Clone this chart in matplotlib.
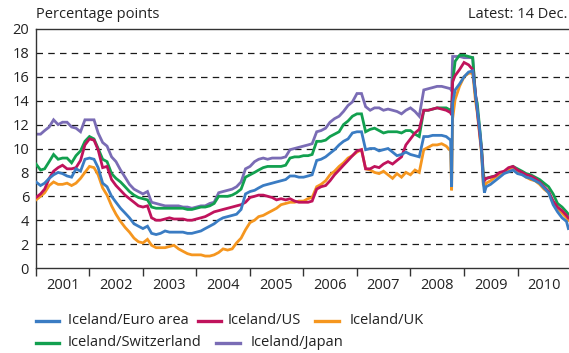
import numpy as np
import pandas as pd
import matplotlib
matplotlib.use("Agg")
import matplotlib.pyplot as plt
from matplotlib.lines import Line2D

plt.rcParams["font.family"] = ["Open Sans", "DejaVu Sans"]

# Monthly observations (first of each month, Jan 2001 - Dec 2010), percentage points
months = pd.date_range("2001-01-01", "2010-12-01", freq="MS")

euro_area = [
    7.2, 6.9, 7.1, 7.5, 7.8, 8.0, 7.9, 7.7, 7.6, 8.3, 8.1, 9.1,
    9.2, 9.1, 8.4, 7.1, 6.8, 6.0, 5.5, 5.0, 4.6, 4.2, 3.7, 3.5,
    3.3, 3.5, 2.9, 2.8, 2.9, 3.1, 3.0, 3.0, 3.0, 3.0, 2.9, 2.9,
    3.0, 3.1, 3.3, 3.5, 3.7, 4.0, 4.2, 4.3, 4.4, 4.5, 4.9, 6.2,
    6.4, 6.5, 6.7, 6.9, 7.0, 7.1, 7.2, 7.3, 7.4, 7.7, 7.7, 7.6,
    7.6, 7.7, 7.8, 9.0, 9.1, 9.3, 9.6, 9.9, 10.3, 10.6, 10.8, 11.3,
    11.4, 11.4, 9.9, 10.0, 10.0, 9.8, 9.9, 10.0, 9.7, 9.4, 9.5, 9.7,
    9.5, 9.4, 9.3, 11.0, 11.0, 11.1, 11.1, 11.1, 11.0, 10.7, 14.9, 15.4,
    16.0, 16.4, 16.5, 13.3, 9.6, 6.8, 7.0, 7.3, 7.6, 7.9, 8.05, 8.2,
    7.9, 7.8, 7.6, 7.5, 7.3, 7.1, 6.7, 6.3, 5.3, 4.7, 4.2, 3.9,
]
us = [
    5.9, 6.2, 6.6, 7.5, 8.1, 8.4, 8.6, 8.3, 8.3, 8.4, 9.0, 10.3,
    10.8, 10.7, 9.9, 8.4, 8.5, 7.4, 6.9, 6.5, 6.1, 5.8, 5.5, 5.2,
    5.1, 5.2, 4.2, 4.0, 4.0, 4.1, 4.2, 4.1, 4.1, 4.1, 4.0, 4.0,
    4.1, 4.2, 4.3, 4.5, 4.7, 4.8, 4.9, 5.0, 5.1, 5.2, 5.3, 5.5,
    5.9, 6.0, 6.1, 6.1, 6.0, 5.9, 5.7, 5.8, 5.7, 5.8, 5.6, 5.5,
    5.5, 5.5, 5.6, 6.6, 6.8, 6.9, 7.3, 7.8, 8.2, 8.6, 9.0, 9.4,
    9.8, 9.9, 8.3, 8.3, 8.5, 8.4, 8.7, 8.9, 8.7, 9.0, 9.3, 10.3,
    10.8, 11.3, 11.6, 13.2, 13.2, 13.3, 13.4, 13.3, 13.2, 13.0, 16.1, 16.6,
    17.2, 17.0, 16.6, 13.2, 9.8, 7.5, 7.6, 7.7, 8.0, 8.1, 8.4, 8.5,
    8.2, 8.0, 7.8, 7.7, 7.5, 7.2, 6.8, 6.4, 5.6, 5.1, 4.8, 4.4,
]
uk = [
    5.7, 6.0, 6.3, 6.9, 7.2, 7.0, 7.0, 7.1, 6.9, 7.1, 7.5, 8.0,
    8.5, 8.4, 7.8, 6.7, 6.1, 5.2, 4.5, 3.9, 3.4, 3.0, 2.5, 2.2,
    2.1, 2.4, 1.9, 1.7, 1.7, 1.7, 1.8, 1.9, 1.6, 1.4, 1.2, 1.1,
    1.1, 1.1, 1.0, 1.0, 1.1, 1.3, 1.6, 1.5, 1.6, 2.1, 2.5, 3.2,
    3.8, 4.0, 4.3, 4.4, 4.6, 4.8, 5.0, 5.3, 5.4, 5.5, 5.5, 5.6,
    5.6, 5.8, 5.9, 6.8, 7.0, 7.3, 7.8, 8.1, 8.5, 8.8, 9.2, 9.4,
    9.7, 9.9, 8.3, 8.2, 8.0, 7.9, 8.1, 7.8, 7.5, 7.9, 7.6, 8.0,
    7.8, 8.2, 8.0, 9.9, 10.1, 10.3, 10.3, 10.4, 10.2, 9.8, 14.1, 15.2,
    16.0, 16.3, 16.3, 13.0, 9.5, 7.1, 7.3, 7.6, 7.8, 8.0, 8.3, 8.4,
    8.1, 7.9, 7.6, 7.4, 7.3, 7.0, 6.6, 6.3, 5.5, 5.0, 4.6, 4.2,
]
switzerland = [
    8.7, 8.2, 8.3, 8.9, 9.5, 9.1, 9.2, 9.2, 8.8, 9.4, 9.8, 10.6,
    11.0, 10.8, 10.0, 9.1, 8.9, 7.9, 7.5, 7.2, 6.8, 6.4, 6.1, 5.9,
    5.8, 5.7, 5.1, 5.0, 5.0, 5.0, 5.0, 5.0, 5.0, 5.0, 4.9, 4.9,
    5.0, 5.1, 5.1, 5.2, 5.4, 6.0, 6.0, 6.0, 6.1, 6.3, 6.6, 7.6,
    7.8, 8.0, 8.2, 8.4, 8.5, 8.5, 8.5, 8.5, 8.6, 9.2, 9.3, 9.3,
    9.4, 9.4, 9.5, 10.6, 10.6, 10.7, 11.0, 11.2, 11.4, 12.0, 12.3, 12.7,
    12.9, 12.9, 11.4, 11.6, 11.7, 11.5, 11.3, 11.4, 11.4, 11.4, 11.3, 11.5,
    11.5, 11.2, 11.0, 13.2, 13.2, 13.3, 13.4, 13.4, 13.4, 13.2, 17.3, 17.8,
    17.8, 17.7, 17.6, 13.8, 10.0, 7.5, 7.6, 7.7, 7.9, 8.0, 8.3, 8.5,
    8.3, 8.1, 7.9, 7.8, 7.6, 7.4, 7.1, 6.8, 6.2, 5.4, 5.1, 4.7,
]
japan = [
    11.2, 11.2, 11.5, 11.8, 12.4, 12.0, 12.2, 12.2, 11.8, 11.7, 11.4, 12.4,
    12.4, 12.4, 11.3, 10.5, 10.2, 9.3, 8.9, 8.2, 7.6, 7.0, 6.6, 6.4,
    6.2, 6.4, 5.5, 5.4, 5.3, 5.2, 5.2, 5.2, 5.2, 5.1, 5.1, 5.0,
    5.1, 5.2, 5.2, 5.4, 5.5, 6.3, 6.4, 6.5, 6.6, 6.8, 7.2, 8.3,
    8.5, 8.9, 9.1, 9.2, 9.1, 9.2, 9.2, 9.2, 9.3, 9.9, 10.0, 10.1,
    10.2, 10.3, 10.4, 11.4, 11.5, 11.7, 12.2, 12.5, 12.7, 13.1, 13.6, 13.9,
    14.6, 14.6, 13.5, 13.2, 13.4, 13.4, 13.2, 13.3, 13.2, 13.1, 12.9, 13.2,
    13.4, 13.1, 12.7, 14.9, 15.0, 15.1, 15.2, 15.2, 15.1, 15.0, 17.7, 17.7,
    17.6, 17.6, 17.6,
]

# Additional daily observations around the October 2008 collapse, the spring 2009 fall and the latest value
extra_dates = pd.to_datetime([
    "2008-10-08", "2008-10-15", "2009-03-20", "2009-04-20",
    "2009-05-12", "2009-05-20", "2010-12-14",
])
euro_area_extra = [6.8, 13.8, 14.5, 11.3, 7.2, 6.3, 3.3]
us_extra = [12.8, 15.6, 14.6, 11.0, 7.6, 7.3, 4.2]
uk_extra = [6.5, 12.5, 14.0, 10.8, 7.0, 6.8, 4.0]
switzerland_extra = [13.0, 15.5, 14.4, 11.4, 8.0, 7.4, 4.5]
japan_extra = [14.8, 17.7, 14.4, np.nan, np.nan, np.nan, np.nan]

labels = ["Iceland/Euro area", "Iceland/US", "Iceland/UK",
          "Iceland/Switzerland", "Iceland/Japan"]
colors = ["#3a7cc3", "#c0135c", "#f5961f", "#12a04f", "#7a6cb5"]


def combine(monthly, extra):
    vals = list(monthly) + [np.nan] * (len(months) - len(monthly))
    s = pd.Series(vals, index=months)
    e = pd.Series(extra, index=extra_dates)
    return pd.concat([s, e]).sort_index()


data = [combine(euro_area, euro_area_extra), combine(us, us_extra),
        combine(uk, uk_extra), combine(switzerland, switzerland_extra),
        combine(japan, japan_extra)]

W, H = 569, 353
fig = plt.figure(figsize=(W / 100, H / 100), dpi=100)
ax = fig.add_axes([36 / W, 85 / H, 535 / W, 239 / H])

# dashed horizontal reference lines
for v in range(2, 20, 2):
    ax.axhline(v, color="#1a1a1a", lw=0.9, dashes=(5.2, 4.2), zorder=1)

# draw order: Japan at the back, euro area on top
for i in [4, 3, 2, 1, 0]:
    s = data[i]
    ax.plot(s.index, s.values, color=colors[i], lw=2.0, zorder=2 + (4 - i),
            solid_joinstyle="miter")

ax.set_xlim(pd.Timestamp("2001-01-01"), pd.Timestamp("2011-01-01"))
ax.set_ylim(0, 20)

for side in ["left", "bottom", "top"]:
    ax.spines[side].set_color("#333333")
    ax.spines[side].set_linewidth(1.0)
ax.spines["right"].set_visible(False)

ax.set_yticks(range(0, 21, 2))
ax.tick_params(axis="y", length=0, pad=5, labelsize=10.5, colors="#222222")

year_starts = pd.date_range("2001-01-01", "2011-01-01", freq="YS")
mid_years = pd.date_range("2001-07-01", "2010-07-01", freq="12MS")
ax.set_xticks(year_starts)
ax.set_xticklabels([])
ax.set_xticks(mid_years, minor=True)
ax.set_xticklabels([str(d.year) for d in mid_years], minor=True)
ax.tick_params(axis="x", which="major", length=6, width=1.0, direction="out",
               color="#333333")
ax.tick_params(axis="x", which="minor", length=0, pad=7, labelsize=10.5,
               colors="#222222")

fig.text(36 / W, 1 - 15 / H, "Percentage points", fontsize=10.5,
         color="#222222", ha="left", va="center")
fig.text(567 / W, 1 - 15 / H, "Latest: 14 Dec.", fontsize=10.5,
         color="#222222", ha="right", va="center")

# legend, two rows
legend_items = [
    (0, 36, 59, 68, 321),
    (1, 198, 221, 228, 321),
    (2, 315, 339, 350, 321),
    (3, 36, 59, 68, 343),
    (4, 216, 240, 251, 343),
]
for i, x0, x1, xt, y in legend_items:
    yy = 1 - y / H
    fig.add_artist(Line2D([x0 / W, x1 / W], [yy, yy], color=colors[i],
                          lw=2.4, transform=fig.transFigure))
    fig.text(xt / W, yy, labels[i], fontsize=10.5, color="#222222",
             ha="left", va="center")

fig.savefig("out.png", dpi=100)
